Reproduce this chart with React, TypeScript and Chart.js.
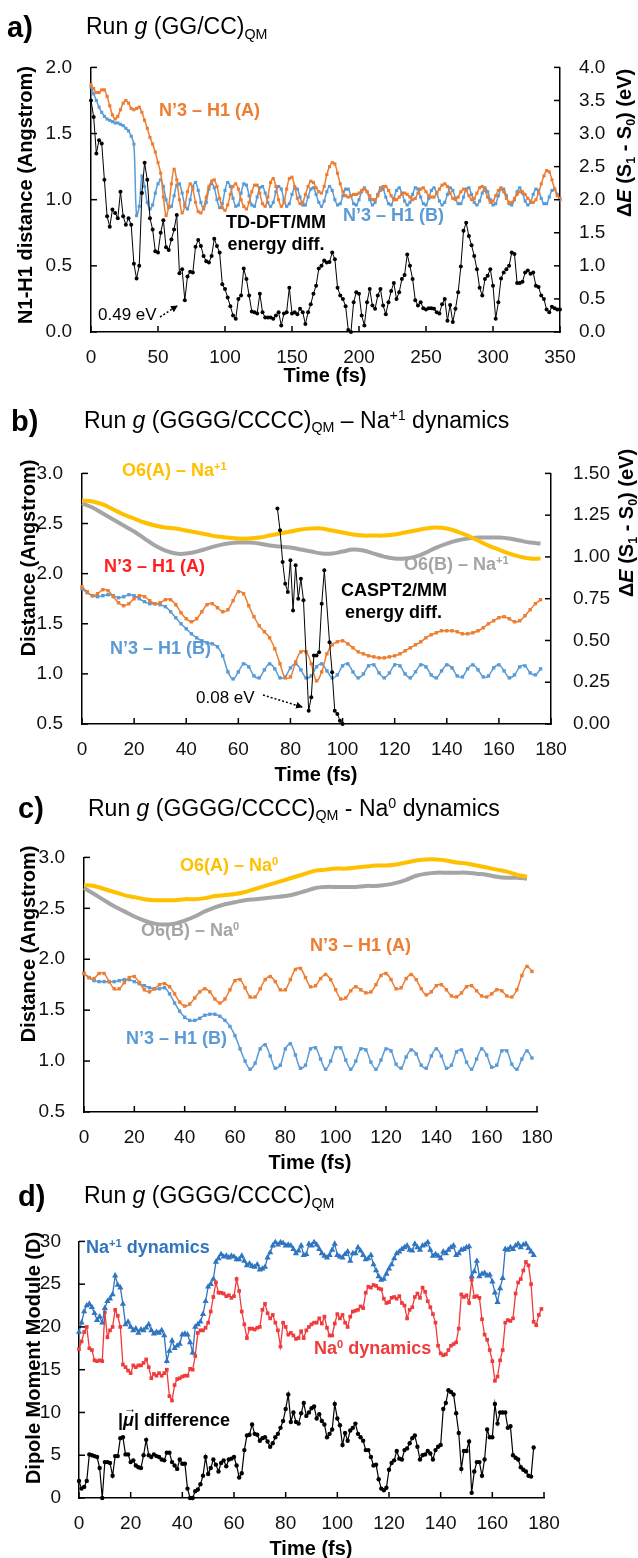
import React, { useEffect, useRef } from "react";
import { Chart, registerables } from "chart.js";

Chart.register(...registerables);

const FONT = "'Liberation Sans', Arial, Helvetica, sans-serif";
const W = 638;

const C_ORANGE = "#ED7D31";
const C_BLUE = "#5B9BD5";
const C_YELLOW = "#FFC000";
const C_GRAY = "#A5A5A5";
const C_RED = "#EF3B3B";
const C_DBLUE = "#2F75C0";
const C_LABEL_RED = "#FF1F1F";

// ---------------- Panel a: Run g (GG/CC)QM ----------------
const aTime = Array.from({ length: 176 }, (_, i) => i * 2);
const aOrange = [
  1.87, 1.84, 1.81, 1.81, 1.83, 1.83, 1.78, 1.71, 1.64, 1.61,
  1.63, 1.68, 1.73, 1.75, 1.73, 1.69, 1.68, 1.69, 1.70, 1.66,
  1.60, 1.54, 1.47, 1.42, 1.36, 1.28, 1.20, 1.02, 0.88, 0.95,
  1.12, 1.23, 1.15, 1.00, 0.90, 0.95, 1.06, 1.12, 1.08, 0.98,
  0.91, 0.90, 0.94, 1.02, 1.10, 1.14, 1.15, 1.10, 1.01, 0.94,
  0.92, 0.96, 1.04, 1.10, 1.12, 1.08, 1.00, 0.95, 0.93, 0.98,
  1.06, 1.11, 1.11, 1.05, 0.97, 0.95, 1.02, 1.13, 1.16, 1.10,
  1.00, 0.95, 0.98, 1.08, 1.16, 1.17, 1.10, 1.01, 0.97, 0.98,
  1.04, 1.10, 1.14, 1.13, 1.09, 1.06, 1.05, 1.10, 1.19, 1.25,
  1.28, 1.27, 1.20, 1.12, 1.06, 1.03, 1.02, 1.03, 1.04, 1.04,
  1.05, 1.07, 1.08, 1.06, 1.03, 1.00, 1.00, 1.03, 1.07, 1.10,
  1.10, 1.07, 1.03, 1.00, 1.00, 1.02, 1.04, 1.05, 1.04, 1.02,
  1.00, 1.01, 1.05, 1.08, 1.09, 1.06, 1.03, 1.02, 1.02, 1.05,
  1.08, 1.11, 1.12, 1.10, 1.05, 1.01, 1.00, 1.02, 1.06, 1.08,
  1.07, 1.03, 1.00, 1.01, 1.05, 1.09, 1.10, 1.07, 1.02, 0.98,
  0.99, 1.03, 1.07, 1.09, 1.06, 1.01, 0.98, 0.98, 1.01, 1.04,
  1.06, 1.06, 1.04, 1.01, 0.99, 0.98, 1.00, 1.05, 1.12, 1.18,
  1.22, 1.21, 1.15, 1.08, 1.03, 1.01,
];
const aBlue = [
  1.85, 1.80, 1.75, 1.70, 1.66, 1.63, 1.61, 1.60, 1.59, 1.58,
  1.58, 1.57, 1.56, 1.54, 1.52, 1.48, 1.42, 0.88, 0.95, 1.18,
  1.10, 0.98, 0.93, 0.96, 1.05, 1.12, 1.15, 1.10, 1.00, 0.94,
  0.95, 1.03, 1.11, 1.12, 1.05, 0.96, 0.93, 1.00, 1.10, 1.13,
  1.07, 0.98, 0.93, 0.98, 1.08, 1.12, 1.09, 1.00, 0.94, 0.97,
  1.07, 1.13, 1.10, 1.01, 0.95, 0.96, 1.05, 1.12, 1.11, 1.03,
  0.96, 0.95, 1.02, 1.09, 1.10, 1.05, 0.98, 0.95, 0.98, 1.06,
  1.10, 1.08, 1.00, 0.95, 0.97, 1.04, 1.09, 1.08, 1.02, 0.96,
  0.96, 1.02, 1.08, 1.09, 1.04, 0.98, 0.95, 0.99, 1.06, 1.10,
  1.07, 1.00, 0.96, 0.97, 1.03, 1.08, 1.08, 1.03, 0.97, 0.96,
  1.00, 1.06, 1.09, 1.06, 1.00, 0.96, 0.98, 1.04, 1.09, 1.08,
  1.02, 0.97, 0.96, 1.01, 1.07, 1.09, 1.05, 0.99, 0.96, 0.98,
  1.04, 1.09, 1.08, 1.02, 0.97, 0.96, 1.01, 1.07, 1.09, 1.05,
  0.99, 0.96, 0.98, 1.04, 1.09, 1.07, 1.01, 0.97, 0.97, 1.02,
  1.08, 1.09, 1.04, 0.98, 0.96, 0.99, 1.05, 1.09, 1.06, 1.00,
  0.96, 0.97, 1.03, 1.08, 1.08, 1.03, 0.97, 0.96, 1.00, 1.06,
  1.09, 1.05, 0.99, 0.96, 0.98, 1.04, 1.08, 1.07, 1.01, 0.97,
  0.97, 1.02, 1.07, 1.08, 1.04, 1.00,
];
const aBlack = [
  3.50, 3.25, 2.70, 2.90, 2.85, 2.30, 1.75, 1.59, 1.85, 1.80,
  1.72, 2.12, 1.75, 1.62, 1.72, 1.62, 1.03, 0.81, 1.00, 2.10,
  2.56, 2.30, 1.72, 1.55, 1.22, 1.20, 1.50, 1.69, 1.28, 1.24,
  1.40, 1.55, 1.77, 0.89, 0.95, 0.48, 0.84, 0.91, 0.90, 1.29,
  1.39, 1.30, 1.15, 1.07, 1.05, 1.15, 1.41, 1.30, 1.20, 0.72,
  0.65, 0.52, 0.39, 0.25, 0.20, 0.50, 0.55, 0.96, 0.80, 0.55,
  0.31, 0.30, 0.28, 0.58, 0.30, 0.22, 0.22, 0.22, 0.20, 0.25,
  0.30, 0.10, 0.28, 0.30, 0.67, 0.28, 0.30, 0.27, 0.35, 0.30,
  0.12, 0.30, 0.42, 0.58, 0.70, 0.96, 1.00, 1.08, 1.05, 1.06,
  1.20, 1.10, 0.67, 0.55, 0.50, 0.39, 0.03, 0.00, 0.45, 0.60,
  0.58, 0.25, 0.10, 0.45, 0.65, 0.40, 0.35, 0.55, 0.65, 0.40,
  0.27, 0.45, 0.62, 0.74, 0.50, 0.60, 0.80, 0.86, 1.17, 1.00,
  0.80, 0.48, 0.40, 0.45, 0.36, 0.34, 0.36, 0.36, 0.35, 0.30,
  0.28, 0.42, 0.50, 0.17, 0.41, 0.15, 0.35, 0.60, 0.99, 1.53,
  1.65, 1.45, 1.31, 1.15, 0.95, 0.67, 0.55, 0.80, 0.85, 0.95,
  0.70, 0.20, 0.45, 0.81, 0.90, 0.95, 1.00, 1.20, 1.18, 0.74,
  0.74, 0.76, 0.90, 0.93, 0.88, 0.90, 0.70, 0.68, 0.55, 0.50,
  0.34, 0.30, 0.38, 0.36, 0.34, 0.34,
];

// ---------------- Panel b: Na+1 dynamics ----------------
const bTime = Array.from({ length: 89 }, (_, i) => i * 2);
const bSlowTime = Array.from({ length: 45 }, (_, i) => i * 4);
const bOrange = [
  1.87, 1.82, 1.78, 1.80, 1.84, 1.83, 1.77, 1.71, 1.68, 1.70,
  1.75, 1.78, 1.77, 1.73, 1.70, 1.71, 1.74, 1.74, 1.69, 1.61,
  1.55, 1.52, 1.55, 1.62, 1.69, 1.70, 1.66, 1.62, 1.64, 1.73,
  1.82, 1.80, 1.68, 1.57, 1.48, 1.42, 1.36, 1.25, 1.10, 0.96,
  0.97, 1.12, 1.22, 1.22, 1.10, 0.93, 1.02, 1.20, 1.29, 1.32,
  1.33, 1.30, 1.26, 1.22, 1.20, 1.18, 1.17, 1.16, 1.16, 1.17,
  1.18, 1.20, 1.23, 1.26, 1.29, 1.32, 1.36, 1.39, 1.41, 1.43,
  1.43, 1.43, 1.42, 1.40, 1.40, 1.41, 1.43, 1.46, 1.50, 1.53,
  1.56, 1.57, 1.55, 1.52, 1.53, 1.58, 1.64, 1.70, 1.74,
];
const bBlue = [
  1.85, 1.81, 1.78, 1.77, 1.78, 1.79, 1.78, 1.76, 1.77, 1.79,
  1.78, 1.75, 1.72, 1.70, 1.70, 1.69, 1.67, 1.62, 1.56, 1.50,
  1.45, 1.40, 1.36, 1.33, 1.31, 1.30, 1.27, 1.18, 1.02, 0.95,
  1.02, 1.10, 1.07, 0.98, 0.96, 1.04, 1.10, 1.05, 0.96, 0.97,
  1.06, 1.10, 1.04, 0.96, 0.98, 1.07, 1.10, 1.03, 0.96, 0.99,
  1.08, 1.10, 1.02, 0.96, 1.00, 1.08, 1.09, 1.01, 0.96, 1.01,
  1.09, 1.08, 1.00, 0.96, 1.02, 1.09, 1.07, 0.99, 0.96, 1.03,
  1.09, 1.06, 0.98, 0.97, 1.05, 1.09, 1.04, 0.97, 0.98, 1.06,
  1.09, 1.03, 0.96, 0.99, 1.07, 1.08, 1.01, 0.99, 1.05,
];
const bYellow = [
  2.73, 2.72, 2.69, 2.64, 2.59, 2.55, 2.51, 2.48, 2.46, 2.45,
  2.43, 2.41, 2.39, 2.37, 2.36, 2.35, 2.35, 2.36, 2.38, 2.40,
  2.42, 2.44, 2.45, 2.45, 2.43, 2.41, 2.39, 2.38, 2.38, 2.38,
  2.39, 2.41, 2.43, 2.45, 2.46, 2.45, 2.42, 2.38, 2.33, 2.28,
  2.24, 2.20, 2.17, 2.15, 2.15,
];
const bGray = [
  2.70, 2.66, 2.60, 2.54, 2.48, 2.42, 2.35, 2.28, 2.23, 2.20,
  2.20, 2.22, 2.25, 2.28, 2.30, 2.31, 2.31, 2.30, 2.28, 2.27,
  2.26, 2.24, 2.22, 2.20, 2.20, 2.22, 2.24, 2.23, 2.20, 2.17,
  2.15, 2.15, 2.17, 2.21, 2.26, 2.30, 2.33, 2.35, 2.36, 2.36,
  2.36, 2.35, 2.33, 2.31, 2.30,
];
const bBlackTime = [75, 76, 77, 78, 79, 80, 81, 82, 83, 84, 85, 87, 88, 89, 90, 91, 92, 93, 95, 96, 97, 98, 99, 100];
const bBlack = [1.29, 1.16, 0.97, 0.84, 0.79, 0.98, 0.68, 0.95, 0.75, 0.87, 0.74, 0.08, 0.16, 0.41, 0.41, 0.43, 0.72, 0.92, 0.49, 0.31, 0.08, 0.06, 0.02, 0.0];

// ---------------- Panel c: Na0 dynamics ----------------
const cTime = Array.from({ length: 90 }, (_, i) => i * 2);
const cSlowTime = Array.from({ length: 45 }, (_, i) => i * 4);
const cOrange = [
  1.86, 1.82, 1.81, 1.86, 1.86, 1.78, 1.71, 1.71, 1.77, 1.82,
  1.83, 1.77, 1.70, 1.68, 1.71, 1.75, 1.76, 1.73, 1.66, 1.58,
  1.54, 1.56, 1.62, 1.68, 1.71, 1.68, 1.61, 1.57, 1.61, 1.70,
  1.79, 1.80, 1.72, 1.63, 1.63, 1.71, 1.80, 1.83, 1.78, 1.70,
  1.70, 1.80, 1.90, 1.91, 1.82, 1.73, 1.74, 1.81, 1.85, 1.80,
  1.70, 1.61, 1.62, 1.69, 1.73, 1.70, 1.67, 1.68, 1.75, 1.84,
  1.86, 1.80, 1.71, 1.72, 1.81, 1.85, 1.80, 1.71, 1.65, 1.68,
  1.74, 1.75, 1.70, 1.64, 1.63, 1.67, 1.73, 1.74, 1.69, 1.64,
  1.63, 1.66, 1.70, 1.69, 1.64, 1.63, 1.70, 1.84, 1.93, 1.88,
];
const cBlue = [
  1.86, 1.82, 1.79, 1.78, 1.78, 1.78, 1.78, 1.79, 1.80, 1.80,
  1.78, 1.76, 1.74, 1.72, 1.71, 1.71, 1.72, 1.66, 1.57, 1.49,
  1.43, 1.40, 1.40, 1.42, 1.45, 1.46, 1.46, 1.44, 1.40, 1.34,
  1.25, 1.12, 1.00, 0.92, 0.98, 1.12, 1.16, 1.05, 0.93, 0.96,
  1.12, 1.17, 1.06, 0.93, 0.96, 1.12, 1.13, 1.02, 0.92, 1.00,
  1.13, 1.13, 1.01, 0.92, 1.00, 1.12, 1.11, 0.99, 0.92, 1.01,
  1.12, 1.10, 0.97, 0.93, 1.04, 1.11, 1.07, 0.96, 0.93, 1.05,
  1.12, 1.05, 0.93, 0.96, 1.09, 1.11, 0.99, 0.92, 1.02, 1.12,
  1.06, 0.94, 0.96, 1.10, 1.10, 0.97, 0.92, 1.02, 1.10, 1.03,
];
const cYellow = [
  2.73, 2.72, 2.69, 2.66, 2.63, 2.61, 2.59, 2.58, 2.58, 2.58,
  2.59, 2.59, 2.60, 2.62, 2.63, 2.64, 2.66, 2.69, 2.72, 2.75,
  2.78, 2.81, 2.84, 2.87, 2.88, 2.89, 2.89, 2.90, 2.91, 2.92,
  2.92, 2.93, 2.95, 2.97, 2.98, 2.98, 2.97, 2.95, 2.94, 2.92,
  2.90, 2.88, 2.86, 2.83, 2.81,
];
const cGray = [
  2.70, 2.64, 2.58, 2.52, 2.47, 2.42, 2.38, 2.35, 2.34, 2.35,
  2.38, 2.42, 2.47, 2.51, 2.54, 2.56, 2.58, 2.59, 2.60, 2.61,
  2.62, 2.64, 2.67, 2.70, 2.71, 2.71, 2.71, 2.71, 2.72, 2.72,
  2.73, 2.75, 2.78, 2.82, 2.84, 2.85, 2.85, 2.85, 2.85, 2.84,
  2.83, 2.81, 2.80, 2.80, 2.79,
];

// ---------------- Panel d: dipole moment ----------------
const dTime = Array.from({ length: 177 }, (_, i) => i);
const dRedTime = Array.from({ length: 180 }, (_, i) => i);
const dBlue = [
  19.4, 20.5, 21.8, 22.5, 22.7, 22.3, 21.6, 20.8, 21.2, 20.5,
  22.2, 23.0, 23.3, 23.8, 26.0, 24.9, 24.6, 22.7, 20.3, 20.6,
  20.0, 19.6, 19.8, 19.3, 19.7, 19.6, 19.9, 20.3, 19.6, 19.2,
  19.4, 19.3, 19.6, 19.0, 16.0, 17.2, 18.4, 17.5, 17.8, 18.0,
  19.1, 19.2, 19.1, 18.2, 17.0, 20.0, 20.3, 20.6, 21.5, 23.0,
  24.7, 25.0, 25.6, 27.6, 28.0, 28.5, 28.2, 28.3, 28.1, 28.3,
  28.2, 27.9, 27.9, 28.3, 27.7, 27.2, 27.4, 27.1, 27.0, 27.3,
  26.7, 26.8, 27.0, 28.1, 28.7, 29.5, 29.9, 29.6, 29.9, 29.8,
  29.5, 29.6, 29.5, 29.1, 28.6, 28.9, 29.5, 28.4, 28.5, 29.7,
  29.5, 29.9, 29.6, 29.1, 28.6, 28.3, 28.1, 28.4, 29.0, 29.7,
  28.4, 28.2, 28.1, 28.5, 28.8, 27.7, 28.6, 28.6, 29.3, 28.9,
  28.4, 27.9, 28.0, 28.4, 27.3, 26.6, 25.9, 25.5, 25.6, 26.2,
  26.8, 27.3, 28.0, 28.6, 28.8, 29.1, 29.3, 29.5, 29.0, 28.9,
  29.7, 29.3, 29.0, 29.5, 29.6, 29.9, 29.0, 28.3, 28.5, 28.3,
  28.0, 28.8, 28.6, 29.0, 29.3, 29.5, 28.4, 28.6, 29.0, 29.1,
  29.3, 29.4, 25.9, 26.5, 27.7, 25.9, 26.2, 26.3, 26.0, 26.1,
  25.3, 24.0, 22.9, 24.5, 25.7, 29.1, 29.0, 29.3, 29.1, 29.5,
  29.7, 29.3, 29.6, 29.7, 29.2, 28.8, 28.4,
];
const dRed = [
  17.4, 18.3, 19.4, 20.0, 17.5, 17.3, 16.1, 16.0, 16.1, 16.0,
  21.7, 18.8, 19.6, 20.0, 22.0, 21.3, 20.0, 15.6, 15.3, 14.9,
  14.6, 15.5, 15.3, 15.5, 15.5, 15.8, 16.2, 15.3, 14.0, 14.5,
  14.3, 14.6, 14.3, 14.6, 15.0, 11.9, 11.4, 13.2, 13.9, 14.0,
  14.2, 14.3, 14.3, 15.1, 15.0, 16.6, 19.3, 19.6, 19.6, 19.9,
  20.5, 21.8, 23.5, 25.2, 24.0, 24.0, 23.9, 23.6, 23.7, 23.4,
  23.6, 25.6, 24.2, 21.8, 20.3, 18.7, 19.8, 19.8, 19.7, 19.9,
  20.0, 22.0, 22.7, 21.6, 21.0, 21.4, 20.5, 19.6, 17.7, 20.5,
  20.0, 19.1, 19.3, 19.0, 18.6, 18.7, 19.5, 18.7, 19.6, 20.0,
  20.3, 20.5, 20.5, 21.0, 20.4, 21.2, 19.9, 19.0, 19.0, 20.4,
  21.5, 21.0, 21.4, 20.5, 20.0, 21.2, 21.8, 21.9, 22.0, 22.4,
  22.2, 24.0, 24.7, 24.6, 24.9, 24.8, 24.5, 24.4, 23.3, 22.8,
  22.9, 23.4, 23.5, 23.3, 23.6, 22.8, 22.5, 21.0, 22.0, 22.3,
  23.5, 23.9, 23.4, 24.6, 24.1, 23.0, 22.3, 21.5, 20.5, 17.8,
  16.9, 16.7, 16.8, 17.3, 17.8, 18.0, 18.2, 19.8, 23.8, 23.5,
  23.7, 22.8, 25.5, 23.5, 23.6, 23.4, 20.9, 19.1, 18.5, 17.3,
  16.0, 13.7, 14.2, 16.1, 17.3, 20.5, 20.8, 20.7, 21.0, 23.9,
  25.2, 25.6, 26.6, 27.6, 27.2, 25.0, 20.6, 20.2, 21.4, 22.1,
];
const dBlack = [
  2.0, 1.1, 1.3, 2.0, 5.1, 5.0, 4.9, 4.8, 3.5, 0.0,
  4.2, 4.2, 4.1, 2.6, 4.9, 4.9, 7.0, 7.1, 5.1, 5.1,
  4.2, 4.4, 3.8, 3.6, 3.5, 5.0, 6.8, 5.0, 4.8, 5.1,
  4.9, 4.8, 4.5, 4.4, 5.3, 5.3, 4.2, 3.8, 3.4, 4.5,
  4.0, 4.0, 1.1, 0.0, 0.0, 0.8, 1.0, 1.6, 2.6, 4.8,
  2.8, 3.5, 4.5, 3.9, 3.1, 4.1, 4.4, 3.7, 4.5, 4.6,
  4.8, 3.8, 2.4, 2.9, 5.6, 7.3, 7.4, 8.6, 7.5, 7.4,
  6.7, 7.0, 7.1, 6.6, 6.0, 6.4, 7.1, 7.5, 8.2, 9.0,
  10.4, 12.1, 8.9, 10.0, 8.9, 8.7, 9.9, 11.1, 9.6, 10.0,
  10.5, 10.7, 9.3, 9.8, 9.0, 8.6, 7.1, 7.5, 8.0, 11.0,
  9.3, 8.5, 6.2, 7.6, 6.7, 7.9, 8.2, 8.7, 7.5, 7.1,
  6.7, 5.6, 5.6, 4.8, 3.8, 3.9, 2.2, 1.1, 0.9, 1.2,
  3.3, 4.1, 4.4, 5.5, 4.6, 4.5, 5.6, 5.8, 6.4, 7.0,
  7.3, 6.0, 4.5, 5.0, 5.1, 5.5, 5.2, 4.5, 5.6, 6.0,
  6.2, 10.4, 11.1, 12.6, 12.4, 12.1, 9.9, 7.6, 3.4, 5.5,
  5.5, 6.6, 0.6, 3.1, 4.2, 4.2, 2.6, 4.5, 8.0, 7.1,
  7.1, 11.0, 8.7, 10.0, 10.0, 10.0, 8.2, 8.4, 5.0, 4.7,
  4.5, 3.6, 3.3, 3.1, 2.6, 2.5, 5.9,
];

// ---------------- helpers ----------------
const inwardTicks = {
  id: "inwardTicks",
  afterDatasetsDraw(chart: any) {
    const { ctx, chartArea: a } = chart;
    ctx.save();
    ctx.strokeStyle = "#000";
    ctx.lineWidth = 1.5;
    const len = 6;
    Object.values(chart.scales).forEach((s: any) => {
      s.ticks.forEach((t: any) => {
        const p = s.getPixelForValue(t.value);
        ctx.beginPath();
        if (s.axis === "x") {
          ctx.moveTo(p, a.bottom);
          ctx.lineTo(p, a.bottom - len);
        } else if (s.position === "left") {
          ctx.moveTo(a.left, p);
          ctx.lineTo(a.left + len, p);
        } else {
          ctx.moveTo(a.right, p);
          ctx.lineTo(a.right - len, p);
        }
        ctx.stroke();
      });
    });
    ctx.restore();
  },
};

const X_AXIS_H = 40;

function axis(position: string, min: number, max: number, step: number, decimals: number, pad: number, size: number) {
  const isX = position === "bottom";
  return {
    type: "linear",
    position,
    min,
    max,
    afterFit: (s: any) => {
      if (isX) s.height = size;
      else s.width = size;
    },
    grid: { display: false, drawTicks: false },
    border: { display: true, color: "#000", width: 1.5 },
    ticks: {
      stepSize: step,
      autoSkip: false,
      maxRotation: 0,
      padding: pad,
      color: "#111",
      font: { family: FONT, size: 19 },
      callback: (v: number) => Number(v).toFixed(decimals),
    },
  };
}

function series(xs: number[], ys: number[], opts: any) {
  return {
    data: xs.map((x, i) => ({ x, y: ys[i] })),
    clip: false,
    pointBorderWidth: 0,
    ...opts,
  };
}

const squares = (color: string, r = 2.2) => ({
  borderColor: color,
  backgroundColor: color,
  pointBackgroundColor: color,
  borderWidth: 1.5,
  pointStyle: "rect",
  pointRadius: r,
  tension: 0.35,
});
const dots = (color: string, r = 2) => ({
  borderColor: color,
  backgroundColor: color,
  pointBackgroundColor: color,
  borderWidth: 1,
  pointStyle: "circle",
  pointRadius: r,
  tension: 0,
});
const band = (color: string) => ({
  borderColor: color,
  backgroundColor: color,
  borderWidth: 4,
  pointRadius: 0,
  tension: 0.4,
});

function baseOptions(padRight: number, scales: any) {
  return {
    animation: false,
    responsive: false,
    maintainAspectRatio: false,
    events: [],
    layout: { padding: { left: 0, right: padRight, top: 15, bottom: 0 } },
    plugins: { legend: { display: false }, tooltip: { enabled: false } },
    scales,
  };
}

const buildA = () => ({
  type: "line",
  data: {
    datasets: [
      series(aTime, aBlack, { ...dots("#000", 2), yAxisID: "y2" }),
      series(aTime, aOrange, { ...squares(C_ORANGE), yAxisID: "y" }),
      series(aTime, aBlue, { ...squares(C_BLUE), yAxisID: "y" }),
    ],
  },
  options: baseOptions(0, {
    x: axis("bottom", 0, 350, 50, 0, 14, X_AXIS_H),
    y: axis("left", 0, 2, 0.5, 1, 19, 91),
    y2: axis("right", 0, 4, 0.5, 1, 19, W - 560),
  }),
  plugins: [inwardTicks],
});

const buildB = () => ({
  type: "line",
  data: {
    datasets: [
      series(bBlackTime, bBlack, { ...dots("#000", 2), yAxisID: "y2" }),
      series(bTime, bOrange, { ...squares(C_ORANGE, 2.4), yAxisID: "y" }),
      series(bTime, bBlue, { ...squares(C_BLUE, 2.4), yAxisID: "y" }),
      series(bSlowTime, bYellow, { ...band(C_YELLOW), yAxisID: "y" }),
      series(bSlowTime, bGray, { ...band(C_GRAY), yAxisID: "y" }),
    ],
  },
  options: baseOptions(0, {
    x: axis("bottom", 0, 180, 20, 0, 14, X_AXIS_H),
    y: axis("left", 0.5, 3, 0.5, 1, 19, 82),
    y2: axis("right", 0, 1.5, 0.25, 2, 22, W - 551),
  }),
  plugins: [inwardTicks],
});

const buildC = () => ({
  type: "line",
  data: {
    datasets: [
      series(cTime, cOrange, { ...squares(C_ORANGE, 2.4) }),
      series(cTime, cBlue, { ...squares(C_BLUE, 2.4) }),
      series(cSlowTime, cYellow, { ...band(C_YELLOW) }),
      series(cSlowTime, cGray, { ...band(C_GRAY) }),
    ],
  },
  options: baseOptions(W - 537, {
    x: axis("bottom", 0, 180, 20, 0, 14, X_AXIS_H),
    y: axis("left", 0.5, 3, 0.5, 1, 19, 84),
  }),
  plugins: [inwardTicks],
});

const buildD = () => ({
  type: "line",
  data: {
    datasets: [
      series(dTime, dBlack, { ...dots("#000", 2.2), borderWidth: 1.2 }),
      series(dTime, dBlue, {
        borderColor: C_DBLUE,
        pointBackgroundColor: C_DBLUE,
        borderWidth: 1.3,
        pointStyle: "triangle",
        pointRadius: 3.6,
        tension: 0,
      }),
      series(dRedTime, dRed, { ...squares(C_RED, 2.6), borderWidth: 1.3, tension: 0 }),
    ],
  },
  options: baseOptions(W - 544, {
    x: axis("bottom", 0, 180, 20, 0, 14, X_AXIS_H),
    y: axis("left", 0, 30, 5, 0, 18, 79),
  }),
  plugins: [inwardTicks],
});

function ChartBox({ top, height, build }: { top: number; height: number; build: () => any }) {
  const ref = useRef<HTMLCanvasElement | null>(null);
  useEffect(() => {
    const chart = new Chart(ref.current as HTMLCanvasElement, build() as any);
    return () => chart.destroy();
  }, []);
  return (
    <canvas
      ref={ref}
      width={W}
      height={height}
      style={{ position: "absolute", left: 0, top, width: W, height }}
    />
  );
}

// ---------------- text helpers ----------------
const base: React.CSSProperties = {
  position: "absolute",
  whiteSpace: "nowrap",
  fontFamily: FONT,
  lineHeight: 1,
};
const Sub = ({ children }: any) => (
  <span style={{ fontSize: "0.62em", verticalAlign: "-0.3em" }}>{children}</span>
);
const Sup = ({ children }: any) => (
  <span style={{ fontSize: "0.62em", verticalAlign: "0.55em" }}>{children}</span>
);
function Label({ x, y, size = 18, color = "#000", bold = true, children }: any) {
  return (
    <div
      style={{
        ...base,
        left: x,
        top: y,
        transform: "translateY(-50%)",
        fontSize: size,
        color,
        fontWeight: bold ? 700 : 400,
      }}
    >
      {children}
    </div>
  );
}
function VTitle({ cx, cy, children }: any) {
  return (
    <div
      style={{
        ...base,
        left: cx,
        top: cy,
        transform: "translate(-50%,-50%) rotate(-90deg)",
        fontSize: 20,
        fontWeight: 700,
        color: "#000",
      }}
    >
      {children}
    </div>
  );
}
function HTitle({ cx, cy, children }: any) {
  return (
    <div
      style={{
        ...base,
        left: cx,
        top: cy,
        transform: "translate(-50%,-50%)",
        fontSize: 20,
        fontWeight: 700,
        color: "#000",
      }}
    >
      {children}
    </div>
  );
}
const PanelLetter = ({ x, y, children }: any) => (
  <Label x={x} y={y} size={29} bold>
    {children}
  </Label>
);
const Title = ({ x, y, children }: any) => (
  <Label x={x} y={y} size={23} bold={false}>
    {children}
  </Label>
);
const DeltaE = () => (
  <>
    Δ<i>E</i> (S<Sub>1</Sub> - S<Sub>0</Sub>) (eV)
  </>
);

export default function App() {
  useEffect(() => {
    document.body.style.margin = "0";
    document.body.style.overflow = "hidden";
  }, []);
  return (
    <div style={{ position: "absolute", left: 0, top: 0, width: W, height: 1558, background: "#fff", overflow: "hidden" }}>
      <ChartBox top={37} height={335} build={buildA} />
      <ChartBox top={440} height={324} build={buildB} />
      <ChartBox top={827} height={325} build={buildC} />
      <ChartBox top={1212} height={326} build={buildD} />

      <svg width={W} height={1558} style={{ position: "absolute", left: 0, top: 0 }}>
        <defs>
          <marker id="ah" markerWidth="7" markerHeight="7" refX="6" refY="3.5" orient="auto" markerUnits="userSpaceOnUse">
            <path d="M0,0 L7,3.5 L0,7 z" fill="#000" />
          </marker>
        </defs>
        <line x1={160} y1={317} x2={177} y2={306} stroke="#000" strokeWidth={1.5} strokeDasharray="2 2" markerEnd="url(#ah)" />
        <line x1={263} y1={695} x2={302} y2={707} stroke="#000" strokeWidth={1.5} strokeDasharray="2 2" markerEnd="url(#ah)" />
      </svg>

      {/* Panel a */}
      <PanelLetter x={7} y={27}>a)</PanelLetter>
      <Title x={86} y={28}>
        Run <i>g</i> (GG/CC)<Sub>QM</Sub>
      </Title>
      <VTitle cx={25} cy={195}>N1-H1 distance (Angstrom)</VTitle>
      <VTitle cx={626} cy={143}>
        <DeltaE />
      </VTitle>
      <HTitle cx={325} cy={375}>Time (fs)</HTitle>
      <Label x={159} y={110} color={C_ORANGE}>N’3 – H1 (A)</Label>
      <Label x={343} y={215} color={C_BLUE}>N’3 – H1 (B)</Label>
      <div style={{ ...base, left: 276, top: 222, transform: "translate(-50%,-25%)", fontSize: 18, fontWeight: 700, textAlign: "center", lineHeight: "22px" }}>
        TD-DFT/MM
        <br />
        energy diff.
      </div>
      <Label x={98} y={314} size={17} bold={false}>0.49 eV</Label>

      {/* Panel b */}
      <PanelLetter x={11} y={421}>b)</PanelLetter>
      <Title x={84} y={421}>
        Run <i>g</i> (GGGG/CCCC)<Sub>QM</Sub> – Na<Sup>+1</Sup> dynamics
      </Title>
      <VTitle cx={28} cy={558}>Distance (Angstrom)</VTitle>
      <VTitle cx={628} cy={523}>
        <DeltaE />
      </VTitle>
      <HTitle cx={316} cy={774}>Time (fs)</HTitle>
      <Label x={122} y={470} color={C_YELLOW}>O6(A) – Na<Sup>+1</Sup></Label>
      <Label x={404} y={564} color={C_GRAY}>O6(B) – Na<Sup>+1</Sup></Label>
      <Label x={104} y={566} color={C_LABEL_RED}>N’3 – H1 (A)</Label>
      <Label x={110} y={648} color={C_BLUE}>N’3 – H1 (B)</Label>
      <Label x={341} y={590}>CASPT2/MM</Label>
      <Label x={345} y={612}>energy diff.</Label>
      <Label x={196} y={697} size={17} bold={false}>0.08 eV</Label>

      {/* Panel c */}
      <PanelLetter x={18} y={808}>c)</PanelLetter>
      <Title x={88} y={809}>
        Run <i>g</i> (GGGG/CCCC)<Sub>QM</Sub> - Na<Sup>0</Sup> dynamics
      </Title>
      <VTitle cx={28} cy={944}>Distance (Angstrom)</VTitle>
      <HTitle cx={310} cy={1162}>Time (fs)</HTitle>
      <Label x={180} y={865} color={C_YELLOW}>O6(A) – Na<Sup>0</Sup></Label>
      <Label x={141} y={930} color={C_GRAY}>O6(B) – Na<Sup>0</Sup></Label>
      <Label x={310} y={945} color={C_ORANGE}>N’3 – H1 (A)</Label>
      <Label x={126} y={1038} color={C_BLUE}>N’3 – H1 (B)</Label>

      {/* Panel d */}
      <PanelLetter x={18} y={1196}>d)</PanelLetter>
      <Title x={84} y={1197}>
        Run <i>g</i> (GGGG/CCCC)<Sub>QM</Sub>
      </Title>
      <VTitle cx={33} cy={1358}>Dipole Moment Module (D)</VTitle>
      <HTitle cx={311} cy={1548}>Time (fs)</HTitle>
      <Label x={86} y={1247} color={C_DBLUE}>Na<Sup>+1</Sup> dynamics</Label>
      <Label x={314} y={1348} color={C_RED}>Na<Sup>0</Sup> dynamics</Label>
      <Label x={118} y={1420}>
        |<span style={{ position: "relative", fontStyle: "italic" }}>
          μ
          <span style={{ position: "absolute", left: "0.05em", top: "-0.55em", fontSize: "0.7em", fontStyle: "normal" }}>→</span>
        </span>| difference
      </Label>
    </div>
  );
}
